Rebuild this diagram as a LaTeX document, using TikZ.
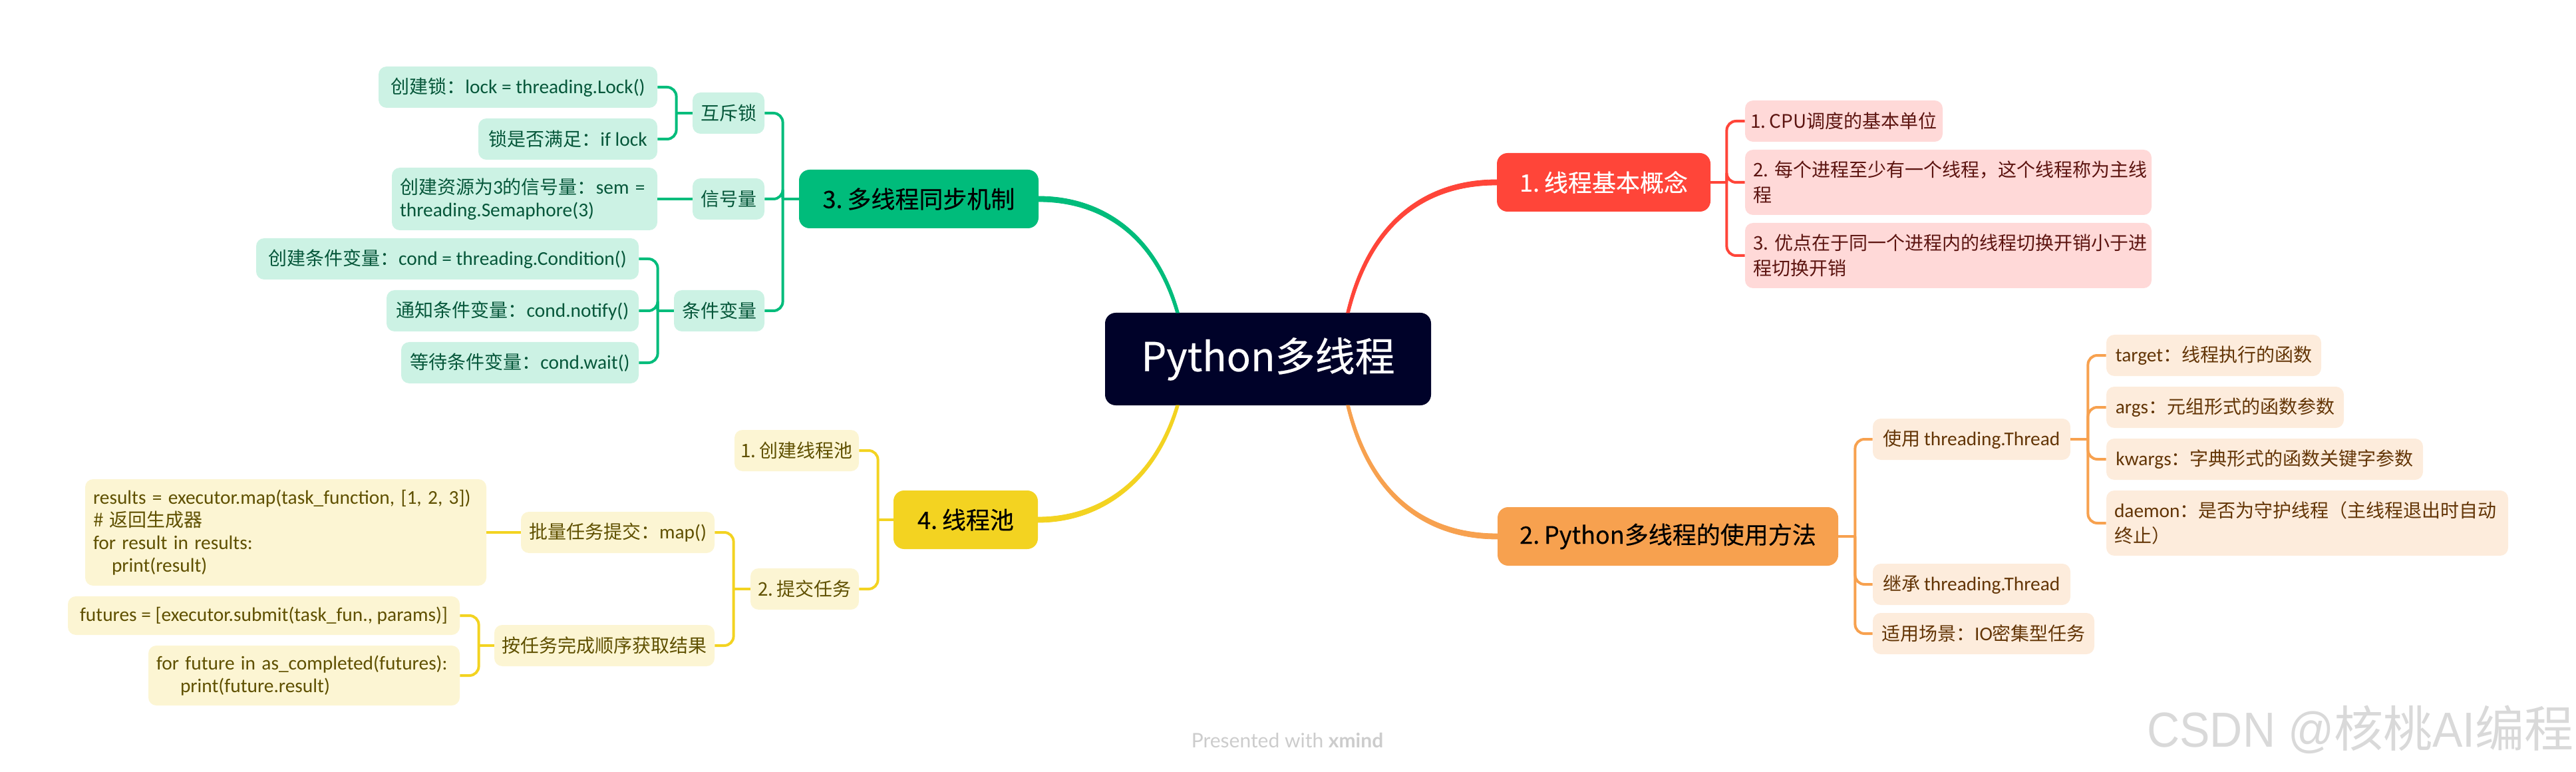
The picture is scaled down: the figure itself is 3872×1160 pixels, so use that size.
\documentclass[tikz,border=0pt]{standalone}
\usepackage{fontspec}
\setmainfont{Noto Sans CJK SC}[WordSpace=0.85]
\newfontfamily\topicfont{Noto Sans CJK SC}[WordSpace=0.85, FakeBold=0.35]
\newfontfamily\la{Carlito}[Scale=1.05]
\newfontfamily\creditfont{Lato}
\newfontfamily\marklatin{Liberation Sans}[FakeStretch=0.92]
\definecolor{rootfill}{HTML}{000229}
\definecolor{redmain}{HTML}{FF4539}
\definecolor{redsoft}{HTML}{FFD9D8}
\definecolor{redtext}{HTML}{5C1410}
\definecolor{orangemain}{HTML}{F7A14F}
\definecolor{orangesoft}{HTML}{FDECDC}
\definecolor{orangetext}{HTML}{633506}
\definecolor{greenmain}{HTML}{00BC7B}
\definecolor{greensoft}{HTML}{CCF2E4}
\definecolor{greentext}{HTML}{06573A}
\definecolor{yellowmain}{HTML}{F3D321}
\definecolor{yellowsoft}{HTML}{FCF5D3}
\definecolor{yellowtext}{HTML}{5F5000}
\tikzset{
    topicbox/.style={fill=#1, rounded corners=8pt, minimum height=44pt, inner xsep=0pt, inner ysep=0pt,
        font=\frenchspacing\topicfont\fontsize{18pt}{22pt}\selectfont},
    subbox/.style={rounded corners=6pt, minimum height=31pt, inner xsep=3pt, inner ysep=0pt,
        font=\frenchspacing\fontsize{14pt}{17pt}\selectfont},
    textblock/.style={inner xsep=6pt, text width=#1, align=left},
    wideblock/.style={textblock=#1, minimum height=49pt, font=\frenchspacing\fontsize{14pt}{18.75pt}\selectfont},
    redbox/.style={subbox, fill=redsoft, text=redtext},
    orangebox/.style={subbox, fill=orangesoft, text=orangetext},
    greenbox/.style={subbox, fill=greensoft, text=greentext},
    yellowbox/.style={subbox, fill=yellowsoft, text=yellowtext},
    link/.style={draw=#1, line width=2pt, rounded corners=7pt},
    branch/.style={draw=#1, fill=#1, line width=0.4pt},
}
\begin{document}
\begin{tikzpicture}[x=0.5pt, y=-0.5pt]
    \useasboundingbox (0,0) rectangle (3872,1160);

    % centre
    \node [fill=rootfill, rounded corners=8pt, text=white, minimum width=245pt, minimum height=69.5pt,
        inner sep=0pt, font=\topicfont\fontsize{30pt}{36pt}\selectfont] (root) at (1906,539.5) {Python多线程};
    \coordinate (rootNE) at (2026,470);
    \coordinate (rootSE) at (2026,609);
    \coordinate (rootNW) at (1770,470);
    \coordinate (rootSW) at (1770,609);

    % 1
    \node [topicbox=redmain, text=white, minimum width=160.5pt] (basics) at (2410.5,274) {1. 线程基本概念};
    \node [redbox, minimum width=148.5pt] (basicsA) at (2771.5,182) {1. CPU调度的基本单位};
    \node [redbox, wideblock=293.5pt] (basicsB) at (2928.5,274)
        {2. 每个进程至少有一个线程，这个线程称为主线\\程};
    \node [redbox, wideblock=293.5pt] (basicsC) at (2928.5,384)
        {3. 优点在于同一个进程内的线程切换开销小于进\\程切换开销};
    \coordinate (basicsJ) at ([xshift=12pt]basics.east);

    % 2
    \node [topicbox=orangemain, minimum width=256pt] (usage) at (2507,806) {2. Python多线程的使用方法};
    \node [orangebox, minimum width=148.5pt] (useThread) at (2963.5,660) {使用 {\la threading.Thread}};
    \node [orangebox, minimum width=148.5pt] (subclass) at (2963.5,878) {继承 {\la threading.Thread}};
    \node [orangebox, minimum width=166.5pt] (scene) at (2981.5,952) {适用场景：{\la IO}密集型任务};
    \node [orangebox, minimum width=161.5pt] (target) at (3327.5,534) {{\la target}：线程执行的函数};
    \node [orangebox, minimum width=178.5pt] (args) at (3344.5,612) {{\la args}：元组形式的函数参数};
    \node [orangebox, minimum width=238pt] (kwargs) at (3404,690) {{\la kwargs}：字典形式的函数关键字参数};
    \node [orangebox, wideblock=290pt] (daemon) at (3468,786)
        {{\la daemon}：是否为守护线程（主线程退出时自动\\终止）};
    \coordinate (usageJ) at ([xshift=12.5pt]usage.east);
    \coordinate (useThreadJ) at ([xshift=13pt]useThread.east);

    % 3
    \node [topicbox=greenmain, minimum width=180pt] (sync) at (1381,299) {3. 多线程同步机制};
    \node [greenbox, minimum width=54pt] (mutex) at (1095,170) {互斥锁};
    \node [greenbox, minimum width=54pt] (sema) at (1095,299) {信号量};
    \node [greenbox, minimum width=68pt] (cond) at (1081,467) {条件变量};
    \node [greenbox, minimum width=209.5pt] (lockA) at (778.5,131) {创建锁：{\la lock = threading.Lock()}};
    \node [greenbox, minimum width=134.5pt] (lockB) at (853.5,209) {锁是否满足：{\la if lock}};
    \node [greenbox, textblock=187.5pt, minimum height=47pt] (semaA) at (788.5,299)
        {创建资源为{\la 3}的信号量：{\la sem =}\\{\la threading.Semaphore(3)}};
    \node [greenbox, minimum width=287.5pt] (condA) at (672.5,389) {创建条件变量：{\la cond = threading.Condition()}};
    \node [greenbox, minimum width=189.5pt] (condB) at (770.5,467) {通知条件变量：{\la cond.notify()}};
    \node [greenbox, minimum width=178.5pt] (condC) at (781.5,545) {等待条件变量：{\la cond.wait()}};
    \coordinate (syncJ) at ([xshift=-12pt]sync.west);
    \coordinate (mutexJ) at ([xshift=-12pt]mutex.west);
    \coordinate (condJ) at ([xshift=-12pt]cond.west);

    % 4
    \node [topicbox=yellowmain, minimum width=108.5pt] (pool) at (1451.5,781) {4. 线程池};
    \node [yellowbox, minimum width=93.5pt] (poolA) at (1197.5,677) {1. 创建线程池};
    \node [yellowbox, minimum width=81.5pt] (poolB) at (1209.5,885) {2. 提交任务};
    \node [yellowbox, minimum width=145.5pt] (batch) at (928.5,800) {批量任务提交：{\la map()}};
    \node [yellowbox, minimum width=165.5pt] (order) at (908.5,970) {按任务完成顺序获取结果};
    \node [yellowbox, textblock=289.5pt, minimum height=80pt] (mapCode) at (429.5,800)
        {{\la results = executor.map(task\_function, [1, 2, 3])}\\\# 返回生成器\\{\la for result in results:}\\\hspace*{14pt}{\la print(result)}};
    \node [yellowbox, minimum width=294.5pt, minimum height=29pt] (futA) at (396.5,925)
        {\la futures = [executor.submit(task\_fun., params)]};
    \node [yellowbox, textblock=222pt, minimum height=45pt] (futB) at (457,1015)
        {{\la for future in as\_completed(futures):}\\\hspace*{18pt}{\la print(future.result)}};
    \coordinate (poolJ) at ([xshift=-11.5pt]pool.west);
    \coordinate (poolBJ) at ([xshift=-12.5pt]poolB.west);
    \coordinate (orderJ) at ([xshift=-11.5pt]order.west);

    % main branches, thinner at the centre
    \draw [branch=redmain] ([xshift=-1.2pt]rootNE) .. controls (2057,329) and (2145,270) .. ([yshift=2pt]basics.west)
        -- ([yshift=-2pt]basics.west) .. controls (2148,278) and (2063,331) .. ([xshift=1.2pt]rootNE) -- cycle;
    \draw [branch=orangemain] ([xshift=-1.2pt]rootSE) .. controls (2057,750) and (2145,810) .. ([yshift=-2pt]usage.west)
        -- ([yshift=2pt]usage.west) .. controls (2148,802) and (2063,748) .. ([xshift=1.2pt]rootSE) -- cycle;
    \draw [branch=greenmain] ([xshift=1.2pt]rootNW) .. controls (1739,349) and (1655,295) .. ([yshift=2pt]sync.east)
        -- ([yshift=-2pt]sync.east) .. controls (1652,303) and (1733,351) .. ([xshift=-1.2pt]rootNW) -- cycle;
    \draw [branch=yellowmain] ([xshift=1.2pt]rootSW) .. controls (1739,725) and (1655,785) .. ([yshift=-2pt]pool.east)
        -- ([yshift=2pt]pool.east) .. controls (1652,777) and (1733,723) .. ([xshift=-1.2pt]rootSW) -- cycle;

    % connectors
    \foreach \c in {basicsA,basicsB,basicsC} \draw [link=redmain] (\c.west) -| (basicsJ);
    \draw [link=redmain] (basics.east) -- (basicsJ);
    \foreach \c in {useThread,subclass,scene} \draw [link=orangemain] (\c.west) -| (usageJ);
    \draw [link=orangemain] (usage.east) -- (usageJ);
    \foreach \c in {target,args,kwargs,daemon} \draw [link=orangemain] (\c.west) -| (useThreadJ);
    \draw [link=orangemain] (useThread.east) -- (useThreadJ);
    \foreach \c in {mutex,sema,cond} \draw [link=greenmain] (\c.east) -| (syncJ);
    \draw [link=greenmain] (sync.west) -- (syncJ);
    \foreach \c in {lockA,lockB} \draw [link=greenmain] (\c.east) -| (mutexJ);
    \draw [link=greenmain] (mutex.west) -- (mutexJ);
    \draw [link=greenmain] (semaA.east) -- (sema.west);
    \foreach \c in {condA,condB,condC} \draw [link=greenmain] (\c.east) -| (condJ);
    \draw [link=greenmain] (cond.west) -- (condJ);
    \foreach \c in {poolA,poolB} \draw [link=yellowmain] (\c.east) -| (poolJ);
    \draw [link=yellowmain] (pool.west) -- (poolJ);
    \foreach \c in {batch,order} \draw [link=yellowmain] (\c.east) -| (poolBJ);
    \draw [link=yellowmain] (poolB.west) -- (poolBJ);
    \draw [link=yellowmain] (mapCode.east) -- (batch.west);
    \foreach \c in {futA,futB} \draw [link=yellowmain] (\c.east) -| (orderJ);
    \draw [link=yellowmain] (order.west) -- (orderJ);

    % footer
    \node [text=black!20, font=\creditfont\fontsize{15pt}{18pt}\selectfont] (credit) at (1935,1112) {Presented with \textbf{xmind}};
    \node [anchor=east, inner sep=0pt, text=black!15, font=\fontsize{37pt}{40pt}\selectfont] (mark) at (3869,1096)
        {{\marklatin CSDN @}核桃{\marklatin AI}编程};
\end{tikzpicture}
\end{document}
